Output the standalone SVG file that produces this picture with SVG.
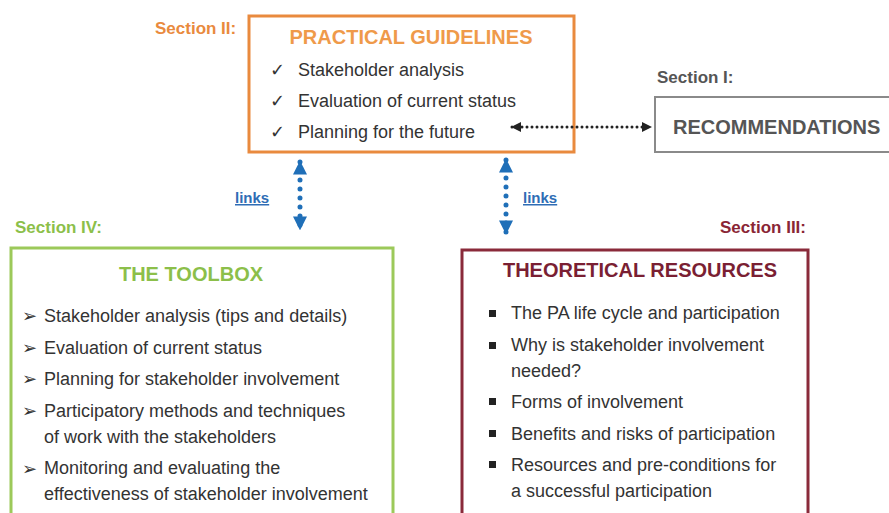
<svg xmlns="http://www.w3.org/2000/svg" width="889" height="513" viewBox="0 0 889 513">
  <defs>
    <style>
      .sec { font-family: "Liberation Sans", Arial, sans-serif; font-weight: bold; font-size: 17px; }
      .title { font-family: "Liberation Sans", Arial, sans-serif; font-weight: bold; font-size: 20px; text-anchor: middle; }
      .item { font-family: "Liberation Sans", Arial, sans-serif; font-size: 18px; fill: #333333; }
      .links { font-family: "Liberation Sans", Arial, sans-serif; font-weight: bold; font-size: 15px; fill: #2f6db5; text-decoration: underline; }
      .dotblack { stroke: #222222; stroke-width: 3; stroke-dasharray: 0 5; stroke-linecap: round; fill: none; }
      .dotblue { stroke: #1f6fb8; stroke-width: 5; stroke-dasharray: 0 9; stroke-linecap: round; fill: none; }
    </style>
    <marker id="headBlack" viewBox="0 0 10 10" refX="9" refY="5" markerWidth="10" markerHeight="10" markerUnits="userSpaceOnUse" orient="auto-start-reverse">
      <path d="M0,0 L10,5 L0,10 Z" fill="#222222"/>
    </marker>
    <marker id="headBlue" viewBox="0 0 10 10" refX="9" refY="5" markerWidth="14" markerHeight="14" markerUnits="userSpaceOnUse" orient="auto-start-reverse">
      <path d="M0,0 L10,5 L0,10 Z" fill="#1f6fb8"/>
    </marker>
  </defs>

  <rect width="889" height="513" fill="#ffffff"/>

  <!-- Section II: practical guidelines -->
  <g id="practical-guidelines">
    <text class="sec" x="155" y="34" fill="#e98a3e">Section II:</text>
    <rect x="249" y="16" width="325" height="136" fill="#ffffff" stroke="#e98a3e" stroke-width="3"/>
    <text class="title" x="411" y="44" fill="#ef9a4a">PRACTICAL GUIDELINES</text>
    <g class="item">
      <text x="270" y="76">✓</text><text x="298" y="76">Stakeholder analysis</text>
      <text x="270" y="107">✓</text><text x="298" y="107">Evaluation of current status</text>
      <text x="270" y="138">✓</text><text x="298" y="138">Planning for the future</text>
    </g>
  </g>

  <!-- Section I: recommendations -->
  <g id="recommendations">
    <text class="sec" x="657" y="83" fill="#555555">Section I:</text>
    <rect x="655" y="97" width="240" height="55" fill="#ffffff" stroke="#8a8a8a" stroke-width="2"/>
    <text x="673" y="134" font-family="Liberation Sans, Arial, sans-serif" font-weight="bold" font-size="20" fill="#555555">RECOMMENDATIONS</text>
  </g>

  <!-- Section IV: toolbox -->
  <g id="toolbox">
    <text class="sec" x="15" y="233" fill="#8cbf4a">Section IV:</text>
    <rect x="11" y="248" width="382" height="275" fill="#ffffff" stroke="#9cc95a" stroke-width="3"/>
    <text class="title" x="191" y="281" fill="#8cbf4a">THE TOOLBOX</text>
    <g class="item">
      <text x="22" y="322">➢</text><text x="44" y="322">Stakeholder analysis (tips and details)</text>
      <text x="22" y="354">➢</text><text x="44" y="354">Evaluation of current status</text>
      <text x="22" y="385">➢</text><text x="44" y="385">Planning for stakeholder involvement</text>
      <text x="22" y="417">➢</text><text x="44" y="417">Participatory methods and techniques</text>
      <text x="44" y="443">of work with the stakeholders</text>
      <text x="22" y="475">➢</text><text x="44" y="474">Monitoring and evaluating the</text>
      <text x="44" y="500">effectiveness of stakeholder involvement</text>
    </g>
  </g>

  <!-- Section III: theoretical resources -->
  <g id="theoretical-resources">
    <text class="sec" x="806" y="233" fill="#8a2535" text-anchor="end">Section III:</text>
    <rect x="462" y="250" width="346" height="275" fill="#ffffff" stroke="#8a2a3a" stroke-width="3"/>
    <text class="title" x="640" y="277" fill="#7a1f33">THEORETICAL RESOURCES</text>
    <g fill="#222222">
      <rect x="489" y="310" width="7" height="7"/>
      <rect x="489" y="342" width="7" height="7"/>
      <rect x="489" y="398" width="7" height="7"/>
      <rect x="489" y="430" width="7" height="7"/>
      <rect x="489" y="461" width="7" height="7"/>
    </g>
    <g class="item">
      <text x="511" y="319">The PA life cycle and participation</text>
      <text x="511" y="351">Why is stakeholder involvement</text>
      <text x="511" y="377">needed?</text>
      <text x="511" y="408">Forms of involvement</text>
      <text x="511" y="440">Benefits and risks of participation</text>
      <text x="511" y="471">Resources and pre-conditions for</text>
      <text x="511" y="497">a successful participation</text>
    </g>
  </g>

  <!-- connectors -->
  <g id="connectors">
    <line class="dotblack" x1="512" y1="127" x2="651" y2="127" marker-start="url(#headBlack)" marker-end="url(#headBlack)"/>
    <line class="dotblue" x1="300" y1="162" x2="300" y2="229" marker-start="url(#headBlue)" marker-end="url(#headBlue)"/>
    <line class="dotblue" x1="506" y1="160" x2="506" y2="233" marker-start="url(#headBlue)" marker-end="url(#headBlue)"/>
    <text class="links" x="235" y="203">links</text>
    <text class="links" x="523" y="203">links</text>
  </g>
</svg>
